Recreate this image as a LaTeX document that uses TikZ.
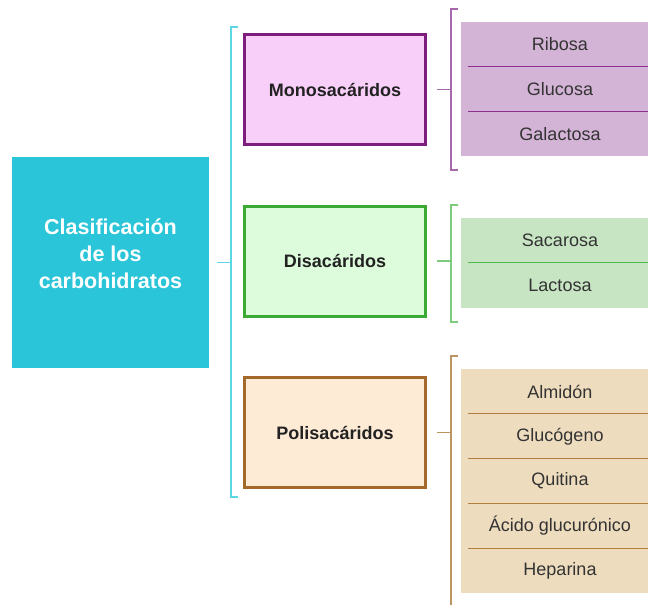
\documentclass[tikz,border=0pt]{standalone}
\usepackage{fontspec}
\setmainfont{Liberation Sans}
\usetikzlibrary{positioning,calc}
\usepackage{xcolor}

\definecolor{cyanbox}{HTML}{2AC5D8}
\definecolor{cyanline}{HTML}{5AD6E6}
\definecolor{monoline}{HTML}{7D1E7E}
\definecolor{monofill}{HTML}{F8CFF8}
\definecolor{monobr}{HTML}{A668AA}
\definecolor{monoitem}{HTML}{D4B4D6}
\definecolor{monosep}{HTML}{8E2F91}
\definecolor{diline}{HTML}{3AAA35}
\definecolor{difill}{HTML}{DDFCDC}
\definecolor{dibr}{HTML}{7DCB7D}
\definecolor{diitem}{HTML}{C7E5C3}
\definecolor{disep}{HTML}{4CBB4C}
\definecolor{poliline}{HTML}{A2692B}
\definecolor{polifill}{HTML}{FDEBD6}
\definecolor{polibr}{HTML}{BC9460}
\definecolor{poliitem}{HTML}{EEDCBE}
\definecolor{polisep}{HTML}{B27E3E}
\definecolor{txtdark}{HTML}{222222}
\definecolor{txtgray}{HTML}{333333}

\begin{document}
\begin{tikzpicture}[x=1pt,y=-1pt]
      \tikzstyle{topic}=[rectangle, line width=3pt, minimum width=181pt, minimum height=110pt, font=\fontsize{18}{22}\selectfont\bfseries, text=txtdark];
      \tikzstyle{item}=[rectangle, minimum width=198pt, minimum height=44.8pt, inner sep=0pt, outer sep=0pt, font=\fontsize{18}{22}\selectfont, text=txtgray];
      \tikzstyle{brace}=[line width=1.2pt];
      \tikzstyle{sep}=[line width=1.1pt];

      \useasboundingbox (0,0) rectangle (648,605);

      \node (c) at (110.5,262.5)[fill=cyanbox, minimum width=197pt, minimum height=211pt]{};
      \node (ctext) at ($(c.center)+(0,-8.5)$)[text=white, align=center, font=\fontsize{21.5}{27}\selectfont\bfseries]{Clasificación\\de los\\carbohidratos};

      \node (m) at (335,89.5)[topic, draw=monoline, fill=monofill]{Monosacáridos};
      \node (d) at (335,261)[topic, draw=diline, fill=difill]{Disacáridos};
      \node (p) at (335,432.5)[topic, draw=poliline, fill=polifill]{Polisacáridos};

      % brackets
      \coordinate (ct) at (231,27);
      \coordinate (cb) at (231,497);
      \coordinate (mt) at (451,9);
      \coordinate (mb) at (451,170);
      \coordinate (dt) at (451,205);
      \coordinate (db) at (451,322);
      \coordinate (pt) at (451,356);
      \coordinate (pb) at (451,606);

      \draw [brace, cyanline] ([xshift=7pt]ct) -- (ct) -- (cb) -- ([xshift=7pt]cb);
      \draw [brace, cyanline] ([xshift=8pt]c.east) -- (c.east -| ct);

      \draw [brace, monobr] ([xshift=7pt]mt) -- (mt) -- (mb) -- ([xshift=7pt]mb);
      \draw [brace, monobr] ([xshift=10pt]m.east) -- (m.east -| mt);
      \draw [brace, dibr] ([xshift=7pt]dt) -- (dt) -- (db) -- ([xshift=7pt]db);
      \draw [brace, dibr] ([xshift=10pt]d.east) -- (d.east -| dt);
      \draw [brace, polibr] ([xshift=7pt]pt) -- (pt) -- (pb);
      \draw [brace, polibr] ([xshift=10pt]p.east) -- (p.east -| pt);

      % lists
      \node (m1) at (560,44.3)[item, fill=monoitem]{Ribosa};
      \node (m2) [below=0pt of m1, item, fill=monoitem]{Glucosa};
      \node (m3) [below=0pt of m2, item, fill=monoitem]{Galactosa};

      \node (d1) at (560,240.3)[item, fill=diitem]{Sacarosa};
      \node (d2) [below=0pt of d1, item, fill=diitem]{Lactosa};

      \node (p1) at (560,391.5)[item, fill=poliitem]{Almidón};
      \node (p2) [below=0pt of p1, item, fill=poliitem]{Glucógeno};
      \node (p3) [below=0pt of p2, item, fill=poliitem]{Quitina};
      \node (p4) [below=0pt of p3, item, fill=poliitem]{Ácido glucurónico};
      \node (p5) [below=0pt of p4, item, fill=poliitem]{Heparina};

      \draw [sep, monosep] ($(m1.south west)+(7,0)$) -- (m1.south east);
      \draw [sep, monosep] ($(m2.south west)+(7,0)$) -- (m2.south east);
      \draw [sep, disep] ($(d1.south west)+(7,0)$) -- (d1.south east);
      \draw [sep, polisep] ($(p1.south west)+(7,0)$) -- (p1.south east);
      \draw [sep, polisep] ($(p2.south west)+(7,0)$) -- (p2.south east);
      \draw [sep, polisep] ($(p3.south west)+(7,0)$) -- (p3.south east);
      \draw [sep, polisep] ($(p4.south west)+(7,0)$) -- (p4.south east);

    \end{tikzpicture}
\end{document}
